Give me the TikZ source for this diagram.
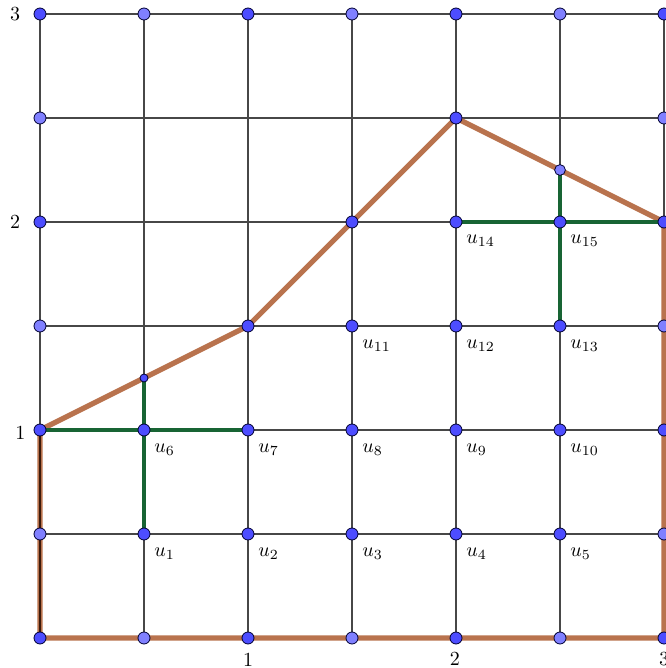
\documentclass[tikz,border=0pt]{standalone}
\begin{document}
\begin{tikzpicture}[x=104pt,y=104pt,
  gridline/.style={draw=black!72, line width=1.1pt},
  orangepath/.style={draw={rgb,255:red,185;green,115;blue,78}, line width=2.6pt, line join=round},
  greenline/.style={draw={rgb,255:red,24;green,100;blue,52}, line width=1.8pt},
  dpt/.style={circle, inner sep=0pt, minimum size=6pt, fill={rgb,255:red,77;green,77;blue,255}, draw=black!80!blue, line width=0.4pt},
  lpt/.style={circle, inner sep=0pt, minimum size=6pt, fill={rgb,255:red,128;green,128;blue,255}, draw=black!80!blue, line width=0.4pt},
  spt/.style={circle, inner sep=0pt, minimum size=4pt, fill={rgb,255:red,77;green,77;blue,255}, draw=black!80!blue, line width=0.4pt},
  mpt/.style={circle, inner sep=0pt, minimum size=5.4pt, fill={rgb,255:red,128;green,128;blue,255}, draw=black!80!blue, line width=0.4pt},
  ulab/.style={anchor=base west, inner sep=0pt, xshift=5pt, yshift=-11pt},
  axlab/.style={inner sep=0pt}]
\useasboundingbox (-0.1923,-0.1442) rectangle (3.0048,3.0673);
% grid
\draw[gridline, step=0.5] (0,0) grid (3,3);
% coordinates
\coordinate (c00) at (0,0);
\coordinate (c30) at (3,0);
\coordinate (c32) at (3,2);
\coordinate (cq2) at (2.5,2.25);
\coordinate (c2t) at (2,2.5);
\coordinate (cm2) at (1.5,2);
\coordinate (c1m) at (1,1.5);
\coordinate (cq1) at (0.5,1.25);
\coordinate (c01) at (0,1);
\coordinate (c11) at (1,1);
\coordinate (ch1) at (0.5,1);
\coordinate (chh) at (0.5,0.5);
\coordinate (c22) at (2,2);
\coordinate (ch2) at (2.5,2);
\coordinate (chm) at (2.5,1.5);
% orange polygon
\draw[orangepath] (c00) -- (c30) -- (c32) -- (cq2) -- (c2t) -- (cm2) -- (c1m) -- (cq1) -- (c01) -- cycle;
\draw[draw={rgb,255:red,60;green,25;blue,10}, line width=0.9pt] (c00) -- (c01);
% green lines
\draw[greenline] (c01) -- (c11);
\draw[greenline] (cq1) -- (chh);
\draw[greenline] (c22) -- (c32);
\draw[greenline] (cq2) -- (chm);
% boundary points, dark
\foreach \x/\y/\n in {0/0/a1,1/0/a2,2/0/a3,3/0/a4,0/1/a5,3/1/a6,0/2/a7,3/2/a8,0/3/a9,1/3/a10,2/3/a11,3/3/a12,1/1.5/a13,1.5/2/a14,2/2.5/a15}
  \node[dpt] (\n) at (\x,\y) {};
% boundary points, light
\foreach \x/\y/\n in {0.5/0/b1,1.5/0/b2,2.5/0/b3,0/0.5/b4,3/0.5/b5,0/1.5/b6,3/1.5/b7,0/2.5/b8,3/2.5/b9,0.5/3/b10,1.5/3/b11,2.5/3/b12}
  \node[lpt] (\n) at (\x,\y) {};
\node[spt] (s1) at (cq1) {};
\node[mpt] (s2) at (cq2) {};
% interior points u_i
\foreach \x/\y/\i in {0.5/0.5/1,1/0.5/2,1.5/0.5/3,2/0.5/4,2.5/0.5/5,0.5/1/6,1/1/7,1.5/1/8,2/1/9,2.5/1/10,1.5/1.5/11,2/1.5/12,2.5/1.5/13,2/2/14,2.5/2/15}{
  \node[dpt] (u\i) at (\x,\y) {};
  \node[ulab] (lu\i) at (u\i) {$u_{\i}$};
}
% axis labels
\node[axlab] (y3) at (-0.120,3.0) {3};
\node[axlab] (y2) at (-0.120,2.0) {2};
\node[axlab] (y1) at (-0.094,0.985) {1};
\node[axlab] (x1) at (1,-0.103) {1};
\node[axlab] (x2) at (1.995,-0.100) {2};
\node[axlab] (x3) at (3,-0.100) {3};
\end{tikzpicture}
\end{document}
